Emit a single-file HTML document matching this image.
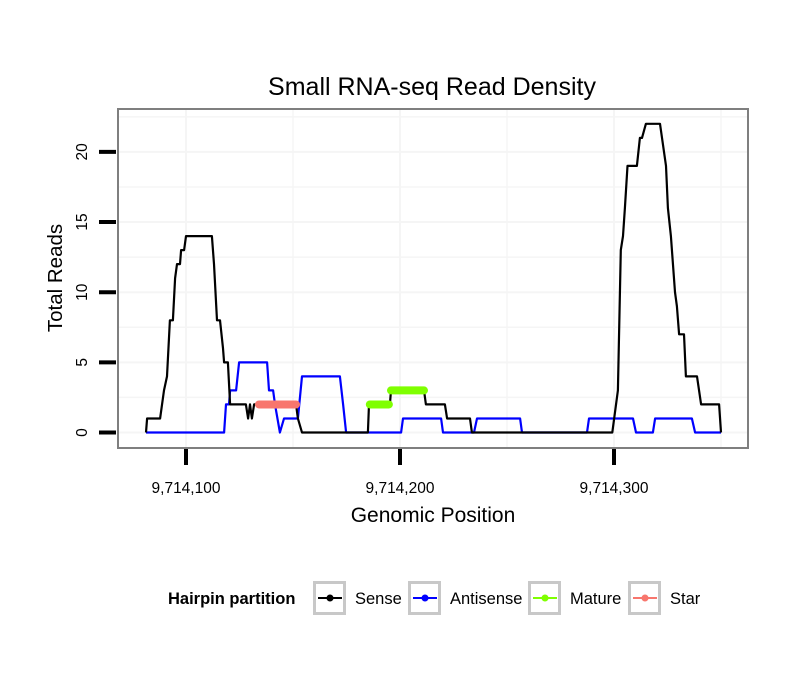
<!DOCTYPE html>
<html><head><meta charset="utf-8"><style>
html,body{margin:0;padding:0;background:#fff;}
svg{display:block;font-family:"Liberation Sans",sans-serif;}
</style></head><body>
<svg id="chart" width="810" height="690" viewBox="0 0 810 690" xmlns="http://www.w3.org/2000/svg">
<rect x="0" y="0" width="810" height="690" fill="#fff"/>
<text x="432" y="95" font-size="25" text-anchor="middle" fill="#000">Small RNA-seq Read Density</text>
<g id="grid"></g>
<g id="series"></g>
<rect x="118" y="109" width="630" height="339" fill="none" stroke="#7f7f7f" stroke-width="2"/>
<g id="axes"></g>
<text x="433" y="522" font-size="21" text-anchor="middle" fill="#000">Genomic Position</text>
<text transform="translate(62,278) rotate(-90)" font-size="20.5" text-anchor="middle" fill="#000">Total Reads</text>
<g>
<text x="168" y="604" font-size="16.5" font-weight="bold" fill="#000">Hairpin partition</text>
<g id="legend-items"></g>
</g>
</svg>
<script>
const xTicks = [9714100, 9714200, 9714300];
const xTickLabels = ["9,714,100", "9,714,200", "9,714,300"];
const yTicks = [0, 5, 10, 15, 20];
const yTickLabels = ["0", "5", "10", "15", "20"];
const senseX = [81.3,81.8,87.9,89.7,91.1,92.5,93.9,94.9,95.8,97.2,97.7,99.1,100,112.1,113.1,114.5,115.9,117.3,117.8,119.6,120.6,128,129,129.9,130.8,131.8,151.4,152.3,154.2,185,185.5,195.3,195.8,211.2,212.1,221,222,232.7,233.6,299.2,301.8,303.2,304.2,305.1,306.3,310.7,312.1,313.1,314.9,321.5,324.3,325.2,326.6,328.5,329.4,330.4,332.7,333.6,338.8,340.7,349.1,350];
const senseY = [0,1,1,3,4,8,8,11,12,12,13,13,14,14,12,8,8,6,5,5,2,2,1,2,1,2,2,1,0,0,2,2,3,3,2,2,1,1,0,0,3,13,14,16,19,19,21,21,22,22,19,16,14,10,9,7,7,4,4,2,2,0];
const antiX = [81.3,117.8,118.7,120.1,120.6,123.4,124.8,137.9,138.8,140.7,141.6,143.9,145.8,152.3,154.2,171.9,173.4,174.8,200.5,201.4,219.2,220.1,234.6,236,256.1,257,287.4,288.3,308.9,310.3,318.2,319.2,336.4,337.9,350];
const antiY = [0,0,2,2,3,3,5,5,3,3,2,0,1,1,4,4,2,0,0,1,1,0,0,1,1,0,0,1,1,0,0,1,1,0,0];
const matureStart = [185.9, 195.8];
const matureEnd = [194.8, 211.2];
const matureY = [2, 3];
const starStart = [134.1];
const starEnd = [151.4];
const starY = [2];
const legendLabels = ["Sense","Antisense","Mature","Star"];
const legendColors = ["#000000","#0000ff","#7fff00","#f8766d"];

const NS = "http://www.w3.org/2000/svg";
const X0 = 9714000;
function sx(p){ return 186 + (p - 100) * 2.14; }
function sxAbs(v){ return sx(v - X0); }
function sy(v){ return 432.5 - v * 14.03; }
function mk(tag, attrs, parent){ const e = document.createElementNS(NS, tag); for (const k in attrs) e.setAttribute(k, attrs[k]); parent.appendChild(e); return e; }

const grid = document.getElementById('grid');
mk('rect', {x:118,y:109,width:630,height:339,fill:'#fff'}, grid);
for (let v = -2.5; v <= 25; v += 2.5) {
  const y = sy(v); if (y < 110 || y > 447) continue;
  const l = mk('line', {x1:119,x2:747,y1:y,y2:y,stroke:'#f5f5f5','stroke-width': v % 5 === 0 ? 2 : 1.5}, grid);
  
  
}
for (let p = 50; p <= 400; p += 50) {
  const x = sx(p); if (x < 119 || x > 747) continue;
  const l = mk('line', {x1:x,x2:x,y1:110,y2:447,stroke:'#f5f5f5','stroke-width': p % 100 === 0 ? 2 : 1.5}, grid);
  
  
}

const series = document.getElementById('series');
function poly(xs, ys, color, name){
  const pts = xs.map((p,i) => sx(p).toFixed(1) + ',' + sy(ys[i]).toFixed(1)).join(' ');
  const e = mk('polyline', {points:pts, fill:'none', stroke:color, 'stroke-width':2.2, 'stroke-linejoin':'round'}, series);
  
  
}
poly(antiX, antiY, '#0000ff', 'antisense-line');
poly(senseX, senseY, '#000000', 'sense-line');
function segs(s, e, ys, color, name){
  s.forEach((p,i) => {
    const l = mk('line', {x1:sx(p), x2:sx(e[i]), y1:sy(ys[i]), y2:sy(ys[i]), stroke:color, 'stroke-width':8, 'stroke-linecap':'round'}, series);
    
    
  });
}
segs(matureStart, matureEnd, matureY, '#7fff00', 'mature-segment');
segs(starStart, starEnd, starY, '#f8766d', 'star-segment');

const axes = document.getElementById('axes');
xTicks.forEach((t,i) => {
  const x = sxAbs(t);
  const l = mk('line', {x1:x,x2:x,y1:449,y2:465,stroke:'#000','stroke-width':4}, axes);
  
  
  const tx = mk('text', {x:x,y:493,'font-size':15.5,'text-anchor':'middle',fill:'#000'}, axes);
  tx.textContent = xTickLabels[i];
  
  
});
yTicks.forEach((t,i) => {
  const y = sy(t);
  const l = mk('line', {x1:99,x2:116,y1:y,y2:y,stroke:'#000','stroke-width':4}, axes);
  
  
  const tx = mk('text', {transform:'translate(87,' + y + ') rotate(-90)','font-size':15.5,'text-anchor':'middle',fill:'#000'}, axes);
  tx.textContent = yTickLabels[i];
  
  
});

const li = document.getElementById('legend-items');
const boxX = [313, 408, 528, 628];
legendLabels.forEach((lab,i) => {
  const g = mk('g', {}, li);
  
  
  const bx = boxX[i];
  mk('rect', {x:bx+1.5,y:582.5,width:30,height:31,fill:'#fff',stroke:'#c8c8c8','stroke-width':3}, g);
  mk('line', {x1:bx+5,x2:bx+29,y1:598,y2:598,stroke:legendColors[i],'stroke-width':2}, g);
  mk('circle', {cx:bx+17,cy:598,r:3.5,fill:legendColors[i]}, g);
  const t = mk('text', {x:bx+42,y:604,'font-size':16.5,fill:'#000'}, g);
  t.textContent = lab;
});
</script>
</body></html>
